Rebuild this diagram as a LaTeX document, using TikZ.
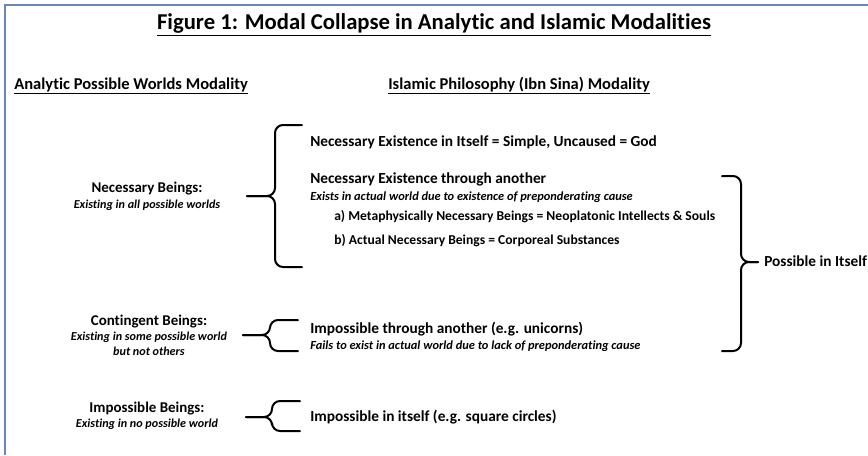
\documentclass[tikz,border=0pt]{standalone}
\usepackage{fontspec}
\setmainfont{Carlito}[Ligatures=NoCommon]
\usepackage{xcolor}
\usepackage{tikz}
\usetikzlibrary{positioning}

\definecolor{framecol}{RGB}{104,134,184}

\begin{document}
\begin{tikzpicture}[
  x=0.75pt, y=-0.75pt,
  title/.style={font=\fontsize{17}{20}\selectfont\bfseries, inner sep=0pt},
  head/.style={font=\fontsize{12.4}{14}\selectfont\bfseries, inner sep=0pt, anchor=mid west},
  being/.style={font=\fontsize{11.2}{13}\selectfont\bfseries, inner sep=0pt, anchor=mid},
  note/.style={font=\fontsize{9.1}{11}\selectfont\bfseries\itshape, inner sep=0pt, anchor=mid},
  item/.style={font=\fontsize{11.5}{13}\selectfont\bfseries, inner sep=0pt, anchor=mid west},
  subitem/.style={font=\fontsize{10.2}{12}\selectfont\bfseries, inner sep=0pt, anchor=mid west},
  sub/.style={font=\fontsize{9.3}{11}\selectfont\bfseries\itshape, inner sep=0pt, anchor=mid west},
  brace/.style={line width=1.5pt, rounded corners=6pt, line cap=round}
]
\useasboundingbox (0,0) rectangle (868,455);
\draw[framecol, line width=1.2pt] (868,5) -- (5,5) -- (5,455);

% headings
\node[title] (ttl) at (434,25) {\underline{Figure 1: Modal Collapse in Analytic and Islamic Modalities}};
\node[head] (apw) at (14,86) {\underline{Analytic Possible Worlds Modality}};
\node[head] (isl) at (388,86) {\underline{Islamic Philosophy (Ibn Sina) Modality}};

% analytic side
\node[being] (nb)  at (147,189) {Necessary Beings:};
\node[note]  (nbn) at (147,205) {Existing in all possible worlds};
\node[being] (cb)  at (149,322) {Contingent Beings:};
\node[note]  (cbn) at (149,337) {Existing in some possible world};
\node[note]  (cbm) at (149,352) {but not others};
\node[being] (ib)  at (147,409) {Impossible Beings:};
\node[note]  (ibn) at (147,424) {Existing in no possible world};

% ibn sina side
\node[item] (nei) at (310,143) {Necessary Existence in Itself = Simple, Uncaused = God};
\node[item] (neta) at (310,180) {Necessary Existence through another};
\node[sub]  (netc) at (310,197) {Exists in actual world due to existence of preponderating cause};
\node[subitem] (mnb) at (334,217) {a) Metaphysically Necessary Beings = Neoplatonic Intellects \& Souls};
\node[subitem] (anb) at (334,241) {b) Actual Necessary Beings = Corporeal Substances};
\node[item] (ita) at (310,330) {Impossible through another (e.g. unicorns)};
\node[sub]  (itc) at (310,346) {Fails to exist in actual world due to lack of preponderating cause};
\node[item] (iit) at (310,418) {Impossible in itself (e.g. square circles)};
\node[item] (pit) at (764,263) {Possible in Itself};

% braces
\draw[brace] (302,125) -- (275,125) -- (275,196) -- (247,196);
\draw[brace] (302,267) -- (275,267) -- (275,196) -- (247,196);
\draw[brace] (298,320) -- (270,320) -- (270,335) -- (243,335);
\draw[brace] (298,351) -- (270,351) -- (270,335) -- (243,335);
\draw[brace] (300,401) -- (272,401) -- (272,417) -- (246,417);
\draw[brace] (300,431) -- (272,431) -- (272,417) -- (246,417);
\draw[brace] (722,176) -- (741,176) -- (741,262) -- (758,262);
\draw[brace] (722,351) -- (741,351) -- (741,262) -- (758,262);
\end{tikzpicture}
\end{document}
